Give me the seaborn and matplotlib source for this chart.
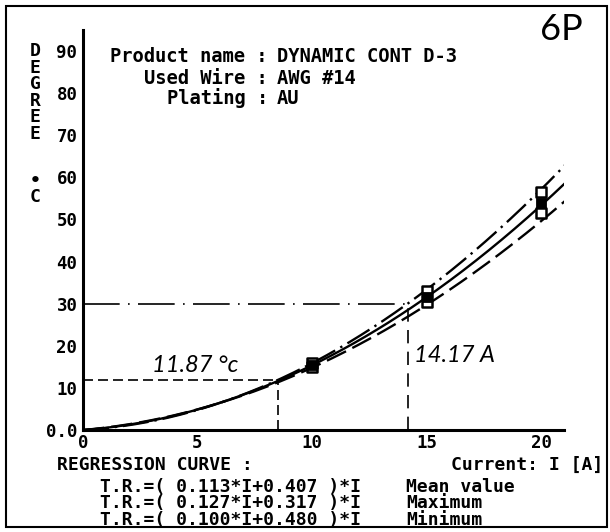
import numpy as np
import pandas as pd
import matplotlib
matplotlib.use("Agg")
import matplotlib.pyplot as plt
import seaborn as sns
from matplotlib.patches import Rectangle
from matplotlib.font_manager import FontProperties

# ---------------- data ----------------
curve_names = ["Mean value", "Maximum", "Minimum"]
coef_a = [0.113, 0.127, 0.100]
coef_b = [0.407, 0.317, 0.480]
coef_texts = ["0.113*I+0.407", "0.127*I+0.317", "0.100*I+0.480"]
current_max = 21.1

point_currents = [10, 15, 20]
mean_points = [15.4, 31.5, 54.0]
max_points = [16.0, 33.0, 56.5]
min_points = [15.0, 30.3, 51.5]

x_ticks = [0, 5, 10, 15, 20]
x_tick_labels = ["0", "5", "10", "15", "20"]
y_ticks = [0, 10, 20, 30, 40, 50, 60, 70, 80, 90]
y_tick_labels = ["0.0", "10", "20", "30", "40", "50", "60", "70", "80", "90"]

rated_temp = 30
rated_current = 14.17
ref_temp = 11.87
ref_current = 8.5

# ---------------- style ----------------
sns.set_theme(style="white")
plt.rcParams["font.family"] = ["DejaVu Sans Mono", "DejaVu Sans"]
W, H = 610, 532
fig = plt.figure(figsize=(W / 100, H / 100), dpi=100)
fig.patch.set_facecolor("white")
ax = fig.add_axes([83 / W, 102 / H, 481 / W, 400 / H])
ax.set_facecolor("white")

# regression curves
rows = []
grid = np.linspace(0, current_max, 300)
for name, a, b in zip(curve_names, coef_a, coef_b):
    for i in grid:
        rows.append({"I": i, "T": (a * i + b) * i, "curve": name})
df = pd.DataFrame(rows)
sns.lineplot(data=df, x="I", y="T", style="curve",
             dashes={"Mean value": "", "Maximum": (11, 2.5, 1, 2.5), "Minimum": (9, 3)},
             color="black", lw=1.7, legend=False, ax=ax, estimator=None)

# measured points
pts = pd.DataFrame({"I": point_currents * 3,
                    "T": mean_points + max_points + min_points,
                    "kind": ["mean"] * 3 + ["max"] * 3 + ["min"] * 3})
sns.scatterplot(data=pts[pts.kind != "mean"], x="I", y="T", marker="s", s=60,
                facecolor="white", edgecolor="black", linewidth=1.8, ax=ax, zorder=5)
sns.scatterplot(data=pts[pts.kind == "mean"], x="I", y="T", marker="s", s=55,
                color="black", edgecolor="black", ax=ax, zorder=6)

# guide lines
ax.plot([0, rated_current], [rated_temp, rated_temp], color="black", lw=1.2,
        dashes=(22, 5, 1, 5))
ax.plot([rated_current, rated_current], [0, rated_temp], color="black", lw=1.2,
        dashes=(8, 5))
ax.plot([0, ref_current], [ref_temp, ref_temp], color="black", lw=1.2, dashes=(6, 3))
ax.plot([ref_current, ref_current], [0, ref_temp], color="black", lw=1.2, dashes=(6, 3))

# axes
ax.set_xlim(0, 21)
ax.set_ylim(0, 95)
ax.set_xticks(x_ticks)
ax.set_xticklabels(x_tick_labels)
ax.set_xticks(np.arange(0, 22, 1), minor=True)
ax.set_yticks(y_ticks)
ax.set_yticklabels(y_tick_labels)
ax.set_yticks(np.arange(5, 100, 10), minor=True)
ax.set_xlabel("")
ax.set_ylabel("")
for s in ["top", "right"]:
    ax.spines[s].set_visible(False)
for s in ["left", "bottom"]:
    ax.spines[s].set_color("black")
    ax.spines[s].set_linewidth(2.2)
ax.tick_params(axis="y", which="major", direction="in", length=13, width=2,
               color="black", pad=4, labelsize=12.5)
ax.tick_params(axis="y", which="minor", direction="in", length=7, width=2, color="black")
ax.tick_params(axis="x", which="major", direction="in", length=11, width=2,
               color="black", pad=3, labelsize=12.5)
ax.tick_params(axis="x", which="minor", direction="in", length=6, width=1.8, color="black")
for lab in ax.get_xticklabels() + ax.get_yticklabels():
    lab.set_fontweight("bold")
    lab.set_color("black")

renderer = fig.canvas.get_renderer()


def spacing_for(px, size):
    fp = FontProperties(family="DejaVu Sans Mono", weight="bold", size=size)
    _, h, d = renderer.get_text_width_height_descent("lp", fp, ismath=False)
    return (px - d) / (h - d)


def ptext(x, y, s, **kw):
    kw.setdefault("color", "black")
    fig.text(x / W, 1 - y / H, s, **kw)


mono = dict(fontsize=13, fontweight="bold")

# vertical axis title
ptext(35, 42, "\n".join("DEGREE"), ha="center", va="top", ma="center",
      linespacing=spacing_for(16.6, 13), **mono)
ptext(35, 172, "•\nC", ha="center", va="top", ma="center",
      linespacing=spacing_for(16, 13), **mono)

# header
hdr = dict(fontsize=13.5, fontweight="bold", va="center")
ptext(268, 57, "Product name :", ha="right", **hdr)
ptext(277, 57, "DYNAMIC CONT D-3", ha="left", **hdr)
ptext(268, 78, "Used Wire :", ha="right", **hdr)
ptext(277, 78, "AWG #14", ha="left", **hdr)
ptext(268, 98, "Plating :", ha="right", **hdr)
ptext(277, 98, "AU", ha="left", **hdr)

# bottom text
ptext(57, 465, "REGRESSION CURVE :", ha="left", va="center", **mono)
ptext(603, 465, "Current: I [A]", ha="right", va="center", **mono)
ls_rows = spacing_for(16.5, 13)
eq_lines = "\n".join("T.R.=( %s )*I" % ct for ct in coef_texts)
ptext(100, 478, eq_lines, ha="left", va="top", linespacing=ls_rows, **mono)
ptext(406, 478, "\n".join(curve_names), ha="left", va="top", linespacing=ls_rows, **mono)

# handwritten notes
hand = dict(family=["Lato", "DejaVu Sans"], fontweight="normal", style="italic",
            va="center")
ptext(152, 365, "11.87 °c", ha="left", fontsize=17, **hand)
ptext(414, 356, "14.17 A", ha="left", fontsize=17, **hand)
ptext(561, 29, "6P", ha="center", fontsize=26,
      family=["Lato", "DejaVu Sans"], fontweight="normal", va="center")

# outer frame
fig.add_artist(Rectangle((6 / W, 5 / H), 601 / W, 521 / H, transform=fig.transFigure,
                         fill=False, edgecolor="black", lw=1.5))

fig.savefig("out.png", dpi=100, facecolor="white")
